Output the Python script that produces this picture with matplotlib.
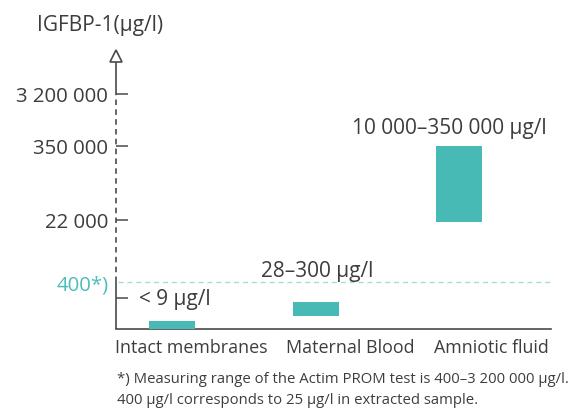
import numpy as np
import matplotlib
matplotlib.use("Agg")
import matplotlib.pyplot as plt
from matplotlib.ticker import NullLocator

plt.rcParams['font.family'] = ['Open Sans', 'DejaVu Sans']

# ---- data ----
categories = ["Intact membranes", "Maternal Blood", "Amniotic fluid"]
range_low = [0, 28, 10000]
range_high = [9, 300, 350000]
range_labels = ["< 9 µg/l", "28–300 µg/l", "10 000–350 000 µg/l"]
tick_values = [320, 400, 22000, 350000, 3200000]
tick_labels = ["", "400*)", "22 000", "350 000", "3 200 000"]
limit_value = 400
axis_title = "IGFBP-1(µg/l)"
footnote = ("*) Measuring range of the Actim PROM test is 400–3 200 000 µg/l.\n"
            "400 µg/l corresponds to 25 µg/l in extracted sample.")

# ---- style ----
TEXT = "#3d3d3d"
AXC = "#4a4a4a"
BAR = "#47bab6"
TEAL_TXT = "#4cbdb9"
TEAL_LINE = "#a6dcda"
FS_TICK = 14.7
FS_ANN = 15.0
FS_CAT = 12.9
FS_TITLE = 15.0
FS_NOTE = 10.75

# schematic (broken) value axis: piecewise mapping in log space
ANCHOR_VALUES = np.array([1, 9, 28, 300, 400, 10000, 22000, 350000, 3200000, 1e9])
ANCHOR_HEIGHTS = np.array([0, 8, 13, 27, 47, 107, 109, 183, 235, 280], float)
LOGS = np.log10(ANCHOR_VALUES)


def fwd(v):
    v = np.asarray(v, float)
    return np.interp(np.log10(np.clip(v, 1, None)), LOGS, ANCHOR_HEIGHTS)


def inv(h):
    h = np.asarray(h, float)
    return 10 ** np.interp(h, ANCHOR_HEIGHTS, LOGS)


fig = plt.figure(figsize=(5.72, 4.10), dpi=100)
ax = fig.add_axes([116 / 572, 80 / 410, 435 / 572, 280 / 410])
ax.set_yscale('function', functions=(fwd, inv))
ax.set_ylim(0, 1e9)
ax.set_xlim(-0.39, 2.64)

x = np.arange(len(categories))
heights = np.array(range_high) - np.array(range_low)
ax.bar(x, heights, bottom=range_low, width=0.32, color=BAR, zorder=3)

# range annotations
offsets = [(2, 16.5), (1, 23), (-7, 13.5)]
for xi, top, lab, off in zip(x, range_high, range_labels, offsets):
    ax.annotate(lab, (xi, top), xytext=off, textcoords='offset points',
                ha='center', va='center', fontsize=FS_ANN, color=TEXT)

# limit line
ax.axhline(limit_value, xmin=0.005, xmax=1, color=TEAL_LINE, lw=1.0,
           dashes=(3.6, 2.8), zorder=2)

# spines
for s in ['top', 'right', 'left']:
    ax.spines[s].set_visible(False)
ax.spines['bottom'].set_color(AXC)
ax.spines['bottom'].set_linewidth(1.2)

# custom value axis line
yt = ax.get_yaxis_transform()
ax.plot([0, 0], [0, limit_value], transform=yt, color=AXC, lw=1.2,
        clip_on=False, solid_capstyle='butt')
ax.plot([0, 0], [limit_value, tick_values[-1]], transform=yt, color=AXC,
        lw=1.2, dashes=(3.3, 2.6), clip_on=False)
ax.plot([0, 0], [tick_values[-1], inv(267)], transform=yt, color=AXC,
        lw=1.2, clip_on=False, solid_capstyle='butt')
ax.plot([0], [inv(273.5)], transform=yt, marker='^', markersize=8.6,
        markerfacecolor='white', markeredgecolor=AXC, markeredgewidth=1.2,
        clip_on=False, zorder=5)

# ticks
ax.set_xticks([])
ax.set_yticks(tick_values, tick_labels)
ax.yaxis.set_minor_locator(NullLocator())
ax.tick_params(axis='y', direction='in', length=8.6, width=1.1, color=AXC,
               labelsize=FS_TICK, labelcolor=TEXT, pad=5.5)
ticks = ax.yaxis.get_major_ticks()
ticks[1].tick1line.set_visible(False)
ax.get_yticklabels()[1].set_color(TEAL_TXT)

# category labels laid out in a row
prev = ax.annotate(categories[0], (0, 0), xycoords='axes fraction',
                   xytext=(-0.7, -13), textcoords='offset points',
                   ha='left', va='center', fontsize=FS_CAT, color=TEXT,
                   annotation_clip=False)
for cat in categories[1:]:
    prev = ax.annotate(cat, (1, 0.5), xycoords=prev, xytext=(13.5, 0),
                       textcoords='offset points', ha='left', va='center',
                       fontsize=FS_CAT, color=TEXT, annotation_clip=False)

fig.text(100 / 572, 1 - 25 / 410, axis_title, ha='center', va='center',
         fontsize=FS_TITLE, color=TEXT)
fig.text(117 / 572, 1 - 390 / 410, footnote, ha='left', va='center',
         fontsize=FS_NOTE, color=TEXT, linespacing=1.55)

fig.savefig("out.png", dpi=100)
